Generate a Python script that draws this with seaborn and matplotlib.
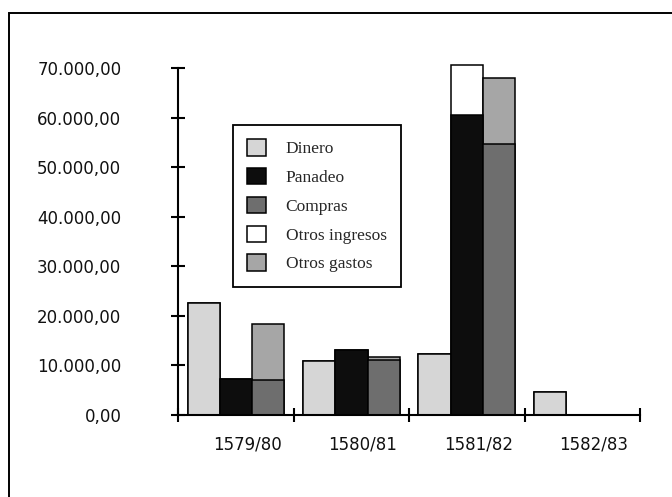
import numpy as np
import pandas as pd
import matplotlib
matplotlib.use("Agg")
import matplotlib.pyplot as plt
from matplotlib.patches import Patch, Rectangle
from matplotlib.ticker import FixedLocator, FuncFormatter
import seaborn as sns

# Balance por ejercicio (maravedís)
years = ["1579/80", "1580/81", "1581/82", "1582/83"]
dinero = [22550, 10900, 12300, 4700]
panadeo = [7200, 13100, 60600, np.nan]
otros_ingresos = [0, 0, 10100, np.nan]
compras = [7100, 11100, 54650, np.nan]
otros_gastos = [11250, 550, 13320, np.nan]

y_ticks = [0, 10000, 20000, 30000, 40000, 50000, 60000, 70000]

col_dinero = "#d6d6d6"
col_panadeo = "#0d0d0d"
col_compras = "#6e6e6e"
col_otros_ing = "#ffffff"
col_otros_gas = "#a6a6a6"

groups = ["Dinero", "Ingresos", "Gastos"]

ingresos_total = [p + o for p, o in zip(panadeo, otros_ingresos)]
gastos_total = [c + o for c, o in zip(compras, otros_gastos)]


def long_table(d, i, g):
    rows = []
    for k, yr in enumerate(years):
        for name, vals in zip(groups, (d, i, g)):
            rows.append({"year": yr, "grupo": name, "valor": vals[k]})
    return pd.DataFrame(rows).dropna()


df_total = long_table(dinero, ingresos_total, gastos_total)
df_base = long_table(dinero, panadeo, compras)

sns.set_theme(style="white")
plt.rcParams["font.family"] = ["DejaVu Sans"]

fig = plt.figure(figsize=(6.72, 4.97), dpi=100)
ax = fig.add_axes([0.2653, 0.165, 0.9524 - 0.2653, 0.8831 - 0.165])

bar_kw = dict(x="year", y="valor", hue="grupo", hue_order=groups, order=years,
              width=0.84, gap=0, errorbar=None, edgecolor="black",
              linewidth=1.1, legend=False, saturation=1, ax=ax)

# upper layers (totals) first, then the lower components on top of them
sns.barplot(data=df_total,
            palette={"Dinero": col_dinero, "Ingresos": col_otros_ing,
                     "Gastos": col_otros_gas}, **bar_kw)
sns.barplot(data=df_base,
            palette={"Dinero": col_dinero, "Ingresos": col_panadeo,
                     "Gastos": col_compras}, **bar_kw)

ax.set_xlim(-0.5, 3.5)
ax.set_ylim(0, 72000)
ax.set_xlabel("")
ax.set_ylabel("")

for s in ("top", "right"):
    ax.spines[s].set_visible(False)
for s in ("left", "bottom"):
    ax.spines[s].set_color("black")
    ax.spines[s].set_linewidth(1.5)
ax.spines["left"].set_bounds(0, 70000)

ax.yaxis.set_major_locator(FixedLocator(y_ticks))
ax.yaxis.set_major_formatter(FuncFormatter(
    lambda v, p: f"{v:,.2f}".replace(",", "X").replace(".", ",").replace("X", ".")))
ax.tick_params(axis="y", which="major", direction="inout", length=10, width=1.5,
               color="black", pad=36, labelsize=12, labelcolor="#111111", left=True)

# category boundaries carry the tick marks, labels sit just right of centre
ax.xaxis.set_minor_locator(FixedLocator([-0.5, 0.5, 1.5, 2.5, 3.5]))
ax.set_xticks([k + 0.1 for k in range(len(years))])
ax.set_xticklabels(years)
ax.tick_params(axis="x", which="major", length=0, pad=15, labelsize=12,
               labelcolor="#111111")
ax.tick_params(axis="x", which="minor", direction="inout", length=10, width=1.5,
               color="black", bottom=True)

handles = [
    Patch(facecolor=col_dinero, edgecolor="black", linewidth=1.1, label="Dinero"),
    Patch(facecolor=col_panadeo, edgecolor="black", linewidth=1.1, label="Panadeo"),
    Patch(facecolor=col_compras, edgecolor="black", linewidth=1.1, label="Compras"),
    Patch(facecolor=col_otros_ing, edgecolor="black", linewidth=1.1, label="Otros ingresos"),
    Patch(facecolor=col_otros_gas, edgecolor="black", linewidth=1.1, label="Otros gastos"),
]
leg = ax.legend(handles=handles, loc="upper left",
                bbox_to_anchor=(232.7 / 672, 1 - 124.7 / 497),
                bbox_transform=fig.transFigure, borderaxespad=0,
                prop={"family": "Liberation Serif", "size": 12.5},
                handlelength=1.05, handleheight=1.05, handletextpad=1.15,
                labelspacing=0.62, borderpad=0.85, frameon=True, fancybox=False,
                framealpha=1, edgecolor="black")
leg.get_frame().set_linewidth(1.3)

# outer frame of the chart area
fig.add_artist(Rectangle((9 / 672, -0.2), 1.5, (1 - 12.5 / 497) + 0.2,
                         transform=fig.transFigure, fill=False,
                         edgecolor="black", linewidth=1.4))

fig.savefig("out.png", dpi=100)
